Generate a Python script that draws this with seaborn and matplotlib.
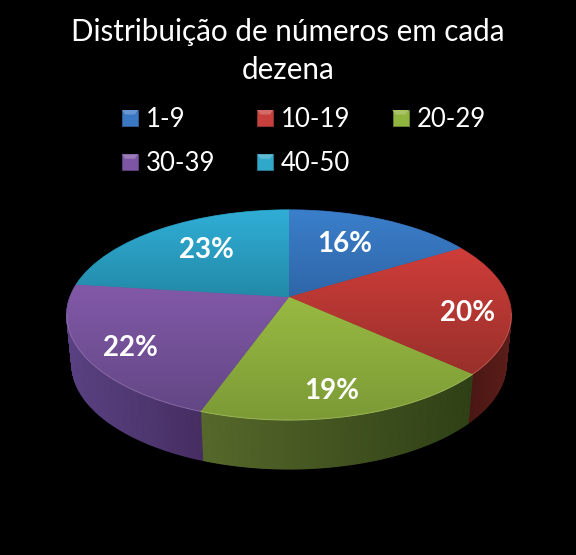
import numpy as np
import matplotlib
matplotlib.use("Agg")
import matplotlib.pyplot as plt
import matplotlib.transforms as mtransforms
from matplotlib.legend_handler import HandlerBase
from matplotlib.patches import Patch, Polygon, Rectangle
import seaborn as sns

# data
categories = ["1-9", "10-19", "20-29", "30-39", "40-50"]
values = [16.3, 20.4, 18.8, 21.5, 23.0]
title = "Distribuição de números em cada\ndezena"

# colours, top of the slice / bottom of the slice
top_light = ["#3b7fcb", "#cf3d39", "#98ba42", "#8259a8", "#30aed6"]
top_dark = ["#2f66a8", "#98302b", "#7c9a36", "#634785", "#238aa8"]
side_left = ["#1d3d66", "#451512", "#56682a", "#5a4283", "#176070"]
side_right = ["#1d3d66", "#5c1e1a", "#2f4016", "#462e62", "#176070"]
legend_colors = ["#3a78c4", "#c8403c", "#8fb53f", "#7d55a5", "#2fa8c9"]

sns.set_theme(style="dark", rc={"figure.facecolor": "black", "axes.facecolor": "black",
                                "savefig.facecolor": "black"})
plt.rcParams["font.family"] = ["Lato", "DejaVu Sans"]

# pie geometry in image pixels
cx, cy = 289, 297
scale_x, scale_y, tilt = 219, 102, 0.171
depth, shrink = 49, 0.977


class Perspective(mtransforms.Transform):
    input_dims = 2
    output_dims = 2

    def transform_non_affine(self, xy):
        xy = np.asarray(xy, dtype=float)
        d = 1 + tilt * xy[:, 1]
        return np.column_stack([cx + scale_x * xy[:, 0] / d, cy - scale_y * xy[:, 1] / d])


class BevelHandler(HandlerBase):
    # small square with a lighter top edge, like the office legend keys
    def create_artists(self, legend, orig_handle, xdescent, ydescent, width, height, fontsize, trans):
        c = orig_handle.get_facecolor()
        s = 16.0 * 72 / 100
        x0, y0 = (width - s) / 2 - xdescent, (height - s) / 2 - ydescent
        light = sns.light_palette(c, 5, reverse=True)[1]
        base = Rectangle((x0, y0), s, s, facecolor=c, edgecolor=sns.dark_palette(c, 4)[2], lw=0.6, transform=trans)
        bevel = Polygon([(x0, y0 + s), (x0 + s, y0 + s), (x0 + s * 0.8, y0 + s * 0.72), (x0 + s * 0.2, y0 + s * 0.72)],
                        facecolor=light, edgecolor="none", transform=trans)
        return [base, bevel]


fig, ax = plt.subplots(figsize=(5.76, 5.55), dpi=100)
fig.subplots_adjust(0, 0, 1, 1)

wedges, _ = ax.pie(values, colors=top_dark, startangle=90, counterclock=False)
ax.set_aspect("auto")
ax.axis("off")
persp = Perspective()

for i, w in enumerate(wedges):
    w.set_transform(persp + ax.transData)
    w.set_edgecolor(top_dark[i])
    w.set_linewidth(0.5)
    w.set_zorder(3)

    th = np.radians(np.linspace(w.theta1, w.theta2, 120))
    rim = persp.transform_non_affine(np.column_stack([np.cos(th), np.sin(th)]))

    # side wall
    xs = np.vstack([rim[:, 0], cx + (rim[:, 0] - cx) * shrink])
    ys = np.vstack([rim[:, 1], rim[:, 1] + depth])
    side_cmap = sns.blend_palette([side_left[i], side_right[i]], as_cmap=True)
    ax.pcolormesh(xs, ys, (xs - xs.min()) / (xs.max() - xs.min()), cmap=side_cmap, shading="gouraud", zorder=2)

    # top gradient, clipped to the slice
    corners = np.vstack([rim, [[cx, cy]]])
    top_cmap = sns.blend_palette([top_light[i], top_dark[i]], as_cmap=True)
    im = ax.imshow(np.linspace(0, 1, 128).reshape(-1, 1), cmap=top_cmap, aspect="auto", zorder=4,
                   extent=(corners[:, 0].min(), corners[:, 0].max(), corners[:, 1].max(), corners[:, 1].min()))
    im.set_clip_path(w)

    # thin highlight on the front rim
    front = rim[:, 1] > cy + 16
    ax.plot(rim[front, 0], rim[front, 1], color=sns.light_palette(top_light[i], 5, reverse=True)[1],
            lw=0.7, alpha=0.6, zorder=5)

ax.set_xlim(0, 576)
ax.set_ylim(555, 0)

# percentage labels
label_radius = [0.6, 0.8, 0.8, 0.8, 0.6]
label_nudge = [(-3, -4), (2, 8), (-6, 3), (2, 5), (-2, -4)]
for w, v, r, (nx, ny) in zip(wedges, values, label_radius, label_nudge):
    mid = np.radians((w.theta1 + w.theta2) / 2)
    lx, ly = persp.transform_non_affine(np.array([[r * np.cos(mid), r * np.sin(mid)]]))[0]
    ax.text(lx + nx, ly + ny, f"{v:.0f}%", color="white", fontsize=20, fontweight="bold",
            ha="center", va="center", zorder=6)

ax.text(288, 51, title, color="white", fontsize=21.3, ha="center", va="center", linespacing=1.47)

# legend fills column by column
handles = [Patch(facecolor=c, label=n) for c, n in zip(legend_colors, categories)]
order = [0, 3, 1, 4, 2]
leg = ax.legend([handles[k] for k in order], [categories[k] for k in order], ncol=3,
                loc="upper left", bbox_to_anchor=(122 / 576, 1 - 107 / 555), frameon=False,
                fontsize=18.5, labelcolor="white", handler_map={Patch: BevelHandler()},
                handlelength=0.62, handletextpad=0.31, columnspacing=1.63, labelspacing=0.75,
                borderpad=0, borderaxespad=0)

fig.savefig("out.png", dpi=100)
